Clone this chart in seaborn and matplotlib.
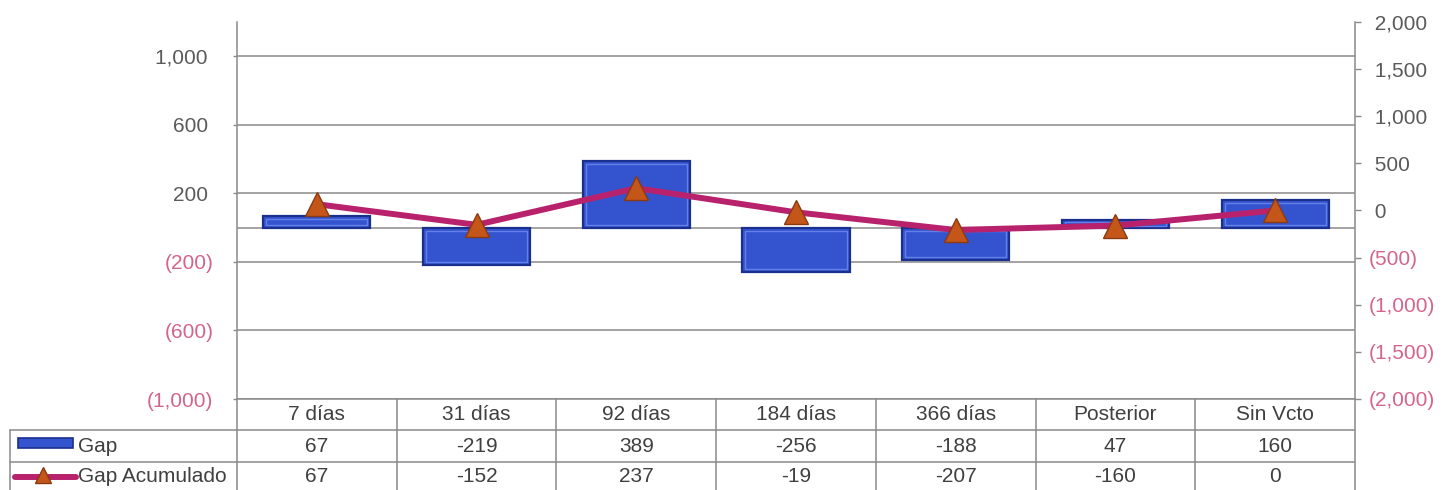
import matplotlib
matplotlib.use("Agg")
import matplotlib.pyplot as plt
import matplotlib.transforms as mtransforms
from matplotlib.lines import Line2D
from matplotlib.patches import Rectangle
from matplotlib.ticker import FixedLocator, FuncFormatter
import pandas as pd
import seaborn as sns

# ---- data -------------------------------------------------------------
categories = ["7 días", "31 días", "92 días", "184 días", "366 días", "Posterior", "Sin Vcto"]
gap = [67, -219, 389, -256, -188, 47, 160]
gap_acumulado = [67, -152, 237, -19, -207, -160, 0]
series_names = ["Gap", "Gap Acumulado"]
left_ticks = [-1000, -600, -200, 200, 600, 1000]
right_ticks = [-2000, -1500, -1000, -500, 0, 500, 1000, 1500, 2000]

# ---- style ------------------------------------------------------------
sns.set_style("white")
plt.rcParams["font.family"] = ["Liberation Sans", "DejaVu Sans"]
FS = 15
BAR = "#3454cf"
BAR_EDGE = "#1b2f8c"
BAR_RIM = "#6f8cee"
LINE = "#b8226c"
MARK = "#c4561a"
MARK_EDGE = "#8a3a10"
GRID = "#8a8a8a"
TXT = "#404040"
POS = "#5a5a5a"
NEG = "#d4658a"

W, H = 1444, 490
fig = plt.figure(figsize=(W / 100, H / 100), dpi=100)
L, R, T, B = 237, 1355, 22, 399
ax = fig.add_axes([L / W, 1 - B / H, (R - L) / W, (B - T) / H])

df = pd.DataFrame({"Plazo": categories, series_names[0]: gap, series_names[1]: gap_acumulado})

# bars on the primary axis
sns.barplot(data=df, x="Plazo", y=series_names[0], color=BAR, saturation=1,
            width=0.67, edgecolor=BAR_EDGE, linewidth=1.6, ax=ax, zorder=3)
ax.set_xlim(-0.5, len(categories) - 0.5)
ax.set_ylim(-1000, 1200)

# light inner rim on every bar for a bevelled look
px_x = (len(categories)) / (R - L)
px_y = 2200 / (B - T)
for p in list(ax.patches):
    x0, w = p.get_x(), p.get_width()
    y0, h = p.get_y(), p.get_height()
    ylo, yhi = min(y0, y0 + h), max(y0, y0 + h)
    ins_y = min(3 * px_y, (yhi - ylo) / 4)
    ins_x = 3 * px_x
    ax.add_patch(Rectangle((x0 + ins_x, ylo + ins_y), w - 2 * ins_x,
                           (yhi - ylo) - 2 * ins_y, facecolor="none",
                           edgecolor=BAR_RIM, lw=1.0, alpha=0.8, zorder=3.5))

ax.yaxis.set_major_locator(FixedLocator(left_ticks))
ax.yaxis.grid(True, color=GRID, lw=1.1, zorder=0)
ax.axhline(0, color=GRID, lw=1.1, zorder=1)
ax.set_xlabel("")
ax.set_ylabel("")
ax.set_xticks([])
for side in ("top", "right"):
    ax.spines[side].set_visible(False)
for side in ("left", "bottom"):
    ax.spines[side].set_color(GRID)
    ax.spines[side].set_linewidth(1.1)


def left_fmt(v, _):
    v = int(round(v))
    return f"({abs(v):,})" if v < 0 else f"{v:,} "


def right_fmt(v, _):
    v = int(round(v))
    return f"({abs(v):,})" if v < 0 else f" {v:,}"


ax.yaxis.set_major_formatter(FuncFormatter(left_fmt))
ax.tick_params(axis="y", direction="out", length=3, width=1, color=GRID,
               pad=14, labelsize=FS)
for lab, v in zip(ax.get_yticklabels(), left_ticks):
    lab.set_color(NEG if v < 0 else POS)

# accumulated line on the secondary axis
ax2 = ax.twinx()
sns.lineplot(data=df, x="Plazo", y=series_names[1], ax=ax2, sort=False,
             color=LINE, lw=4.3, marker="^", markersize=17,
             markerfacecolor=MARK, markeredgecolor=MARK_EDGE, markeredgewidth=1,
             zorder=5)
ax2.set_ylim(-2000, 2000)
ax2.yaxis.set_major_locator(FixedLocator(right_ticks))
ax2.yaxis.set_major_formatter(FuncFormatter(right_fmt))
ax2.set_ylabel("")
ax2.set_xlabel("")
for side in ("top", "left", "bottom"):
    ax2.spines[side].set_visible(False)
ax2.spines["right"].set_color(GRID)
ax2.spines["right"].set_linewidth(1.1)
ax2.tick_params(axis="y", direction="out", length=4, width=1, color=GRID,
                pad=6, labelsize=FS)
for lab, v in zip(ax2.get_yticklabels(), right_ticks):
    lab.set_color(NEG if v < 0 else POS)
if ax2.get_legend() is not None:
    ax2.get_legend().remove()

# ---- data table under the plot -----------------------------------------
def fy(y):
    return 1 - y / H


def fx(x):
    return x / W


col_tr = mtransforms.blended_transform_factory(ax.transData, fig.transFigure)
fig_tr = fig.transFigure
row_top, row1, row2, row_bot = 399, 430, 462, 492
n = len(categories)

# column separators
for k in range(n + 1):
    fig.add_artist(Line2D([k - 0.5, k - 0.5], [fy(row_top), fy(row_bot)],
                          transform=col_tr, color=GRID, lw=1.1))
# row separators
for yy in (row1, row2):
    fig.add_artist(Line2D([fx(10), fx(R)], [fy(yy), fy(yy)],
                          transform=fig_tr, color=GRID, lw=1.1))
fig.add_artist(Line2D([fx(10), fx(10)], [fy(row1), fy(row_bot)],
                      transform=fig_tr, color=GRID, lw=1.1))

for i, cat in enumerate(categories):
    fig.text(i, fy((row_top + row1) / 2), cat, transform=col_tr,
             ha="center", va="center", fontsize=FS, color=TXT)
    fig.text(i, fy((row1 + row2) / 2), f"{gap[i]:d}", transform=col_tr,
             ha="center", va="center", fontsize=FS, color=TXT)
    fig.text(i, fy((row2 + row_bot) / 2 - 1), f"{gap_acumulado[i]:d}", transform=col_tr,
             ha="center", va="center", fontsize=FS, color=TXT)

# legend keys inside the first column
fig.add_artist(Rectangle((fx(18), fy(448)), fx(73) - fx(18), fy(438) - fy(448),
                         transform=fig_tr, facecolor=BAR, edgecolor=BAR_EDGE, lw=1.2))
fig.add_artist(Line2D([fx(15), fx(76)], [fy(476.5), fy(476.5)], transform=fig_tr,
                      color=LINE, lw=4.3))
fig.add_artist(Line2D([fx(43)], [fy(475)], transform=fig_tr, marker="^",
                      markersize=12, color=MARK, markeredgecolor=MARK_EDGE, lw=0))
fig.text(fx(78), fy((row1 + row2) / 2), series_names[0], ha="left", va="center",
         fontsize=FS, color=TXT)
fig.text(fx(78), fy((row2 + row_bot) / 2 - 1), series_names[1], ha="left", va="center",
         fontsize=FS, color=TXT)

fig.savefig("out.png", dpi=100)
